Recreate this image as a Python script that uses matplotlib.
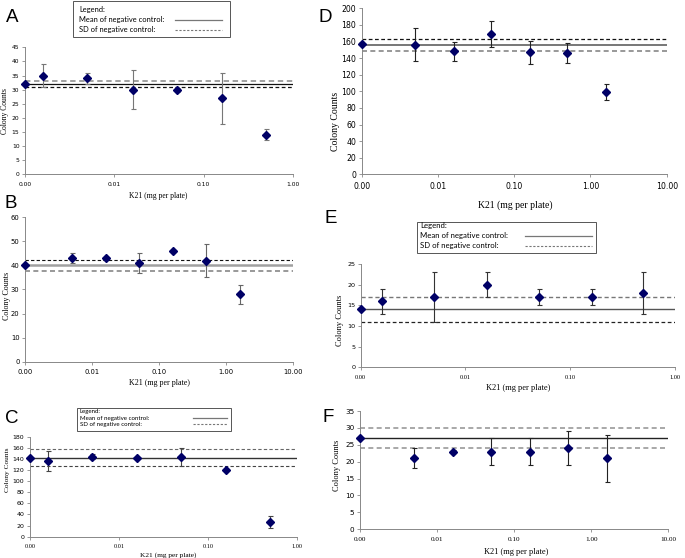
import matplotlib
matplotlib.use("Agg")
import matplotlib.pyplot as plt
from matplotlib.lines import Line2D
from matplotlib.patches import Rectangle

W, H = 685, 558

# shared x axis (log dose, control drawn at 0.001)
dose_ticks = [0.001, 0.01, 0.1, 1, 10]
dose_tick_labels = ["0.00", "0.01", "0.10", "1.00", "10.00"]

# panel A
a_dose = [0.001, 0.0016, 0.005, 0.016, 0.05, 0.16, 0.5]
a_count = [32, 35, 34, 30, 30, 27, 14]
a_err = [0, 4, 2, 7, 0.7, 9, 2]
a_mean, a_sd = 32, 1

# panel B
b_dose = [0.001, 0.005, 0.016, 0.05, 0.16, 0.5, 1.6]
b_count = [40, 43, 43, 41, 46, 42, 28]
b_err = [0, 2, 0.5, 4, 0.5, 7, 4]
b_mean, b_sd = 40, 2.2

# panel C
c_dose = [0.001, 0.0016, 0.005, 0.016, 0.05, 0.16, 0.5]
c_count = [141, 137, 144, 141, 144, 120, 26]
c_err = [0, 18, 4, 2, 16, 0, 11]
c_mean, c_sd = 142, 15

# panel D
d_dose = [0.001, 0.005, 0.016, 0.05, 0.16, 0.5, 1.6]
d_count = [157, 156, 148, 169, 147, 146, 99]
d_err = [0, 20, 11, 16, 14, 12, 10]
d_mean, d_sd = 156, 7

# panel E
e_dose = [0.001, 0.0016, 0.005, 0.016, 0.05, 0.16, 0.5]
e_count = [14, 16, 17, 20, 17, 17, 18]
e_err = [0, 3, 6, 3, 2, 2, 5]
e_mean, e_sd = 14, 3

# panel F
f_dose = [0.001, 0.005, 0.016, 0.05, 0.16, 0.5, 1.6]
f_count = [27, 21, 23, 23, 23, 24, 21]
f_err = [0, 3, 0.5, 4, 4, 5, 7]
f_mean, f_sd = 27, 3

fig = plt.figure(figsize=(W / 100, H / 100), dpi=100)


def px_axes(l, t, r, b):
    return fig.add_axes([l / W, 1 - b / H, (r - l) / W, (b - t) / H])


def ftext(x, y, s, **kw):
    return fig.text(x / W, 1 - y / H, s, **kw)


def panel(box, dose, count, err, mean, sd, xmax, ymax, ystep, letter, letter_xy,
          xlab_xy, ylab_xy, lines, ecolor, tick_size=5, xtick_font="DejaVu Sans",
          lab_size=6):
    ax = px_axes(*box)
    ax.set_xscale("log")
    ax.set_xlim(0.001, xmax)
    ax.set_ylim(0, ymax)
    (mc, mlw), (uc, ulw), (lc, llw) = lines
    ax.axhline(mean, color=mc, lw=mlw, zorder=1)
    ax.axhline(mean + sd, color=uc, lw=ulw, ls=(0, (3, 2)), zorder=1)
    ax.axhline(mean - sd, color=lc, lw=llw, ls=(0, (3, 2)), zorder=1)
    ax.errorbar(dose, count, yerr=err, fmt="D", color="#000066", ms=3.6,
                ecolor=ecolor, elinewidth=0.8, capsize=1.8, capthick=0.8,
                zorder=3, clip_on=False)
    ticks = [t for t in dose_ticks if t <= xmax]
    ax.set_xticks(ticks)
    ax.set_xticklabels(dose_tick_labels[:len(ticks)], fontsize=tick_size,
                       family=xtick_font)
    ax.minorticks_off()
    ax.set_yticks(range(0, ymax + 1, ystep))
    ax.tick_params(axis="y", labelsize=tick_size, length=2.5, width=0.6,
                   color="#888888", pad=1.5)
    ax.tick_params(axis="x", length=2.5, width=0.6, color="#888888", pad=3)
    for s in ["top", "right"]:
        ax.spines[s].set_visible(False)
    for s in ["left", "bottom"]:
        ax.spines[s].set_color("#888888")
        ax.spines[s].set_linewidth(0.7)
    ftext(letter_xy[0], letter_xy[1], letter, fontsize=13.5,
          family="Liberation Sans", va="baseline")
    ftext(xlab_xy[0], xlab_xy[1], "K21 (mg per plate)", fontsize=lab_size,
          family="Liberation Serif", ha="center", va="center")
    ftext(ylab_xy[0], ylab_xy[1], "Colony Counts", fontsize=lab_size,
          family="Liberation Serif", ha="center", va="center", rotation=90)
    return ax


def legend_box(l, t, r, b, ys, tx, lx0, lx1, size):
    fig.add_artist(Rectangle((l / W, 1 - b / H), (r - l) / W, (b - t) / H,
                             transform=fig.transFigure, fill=False,
                             edgecolor="#555555", lw=0.7))
    names = ["Legend:", "Mean of negative control:", "SD of negative control:"]
    for y, name in zip(ys, names):
        ftext(tx, y, name, fontsize=size, family="Lato", va="center")
    fig.add_artist(Line2D([lx0 / W, lx1 / W], [1 - ys[1] / H] * 2,
                          transform=fig.transFigure, color="#777777", lw=0.9))
    fig.add_artist(Line2D([lx0 / W, lx1 / W], [1 - ys[2] / H] * 2,
                          transform=fig.transFigure, color="#777777", lw=0.8,
                          ls=(0, (2, 1.5))))


panel((25, 47.3, 293, 174.3), a_dose, a_count, a_err, a_mean, a_sd, 1, 45, 5,
      "A", (6, 22), (158, 196), (5, 111),
      [("#111111", 0.9), ("#999999", 1.3), ("#111111", 0.9)], "#777777",
      tick_size=4.3, lab_size=5.5)

panel((25, 217.3, 293, 361.7), b_dose, b_count, b_err, b_mean, b_sd, 10, 60, 10,
      "B", (5, 208), (159, 383), (7, 296),
      [("#a0a0a0", 1.8), ("#111111", 0.8), ("#888888", 1.2)], "#666666",
      tick_size=4.9, lab_size=5.8)

panel((30, 436.7, 297, 536.7), c_dose, c_count, c_err, c_mean, c_sd, 1, 180, 20,
      "C", (5, 423), (168, 555), (8, 470),
      [("#333333", 1.0), ("#666666", 0.8), ("#444444", 0.8)], "#444444",
      tick_size=4.5, xtick_font="Liberation Serif", lab_size=5.3)

panel((361.7, 8.3, 666.7, 174.3), d_dose, d_count, d_err, d_mean, d_sd, 10, 200, 20,
      "D", (318, 22), (515, 205), (335, 121),
      [("#777777", 1.4), ("#111111", 0.9), ("#888888", 1.2)], "#222222",
      tick_size=5.6, lab_size=7)

panel((360.7, 264, 675, 367.3), e_dose, e_count, e_err, e_mean, e_sd, 1, 25, 5,
      "E", (325, 223), (518, 388), (340, 320),
      [("#555555", 1.0), ("#777777", 1.0), ("#222222", 0.9)], "#333333",
      tick_size=4.6, xtick_font="Liberation Serif", lab_size=6)

panel((360, 411, 668.3, 529.3), f_dose, f_count, f_err, f_mean, f_sd, 10, 35, 5,
      "F", (322, 422), (516, 552), (337, 465),
      [("#222222", 1.0), ("#999999", 1.2), ("#999999", 1.2)], "#222222",
      tick_size=5.2, xtick_font="Liberation Serif", lab_size=6)

legend_box(73, 0.5, 230, 37, [9.5, 19.5, 29.5], 79, 175, 222, 5.4)
legend_box(77, 407.7, 231, 430.7, [411.7, 418.3, 424.3], 79.5, 193, 227, 4.4)
legend_box(417, 222, 596, 253, [226, 235.7, 245.7], 420, 525, 592, 5.6)

fig.savefig("out.png", dpi=100)
